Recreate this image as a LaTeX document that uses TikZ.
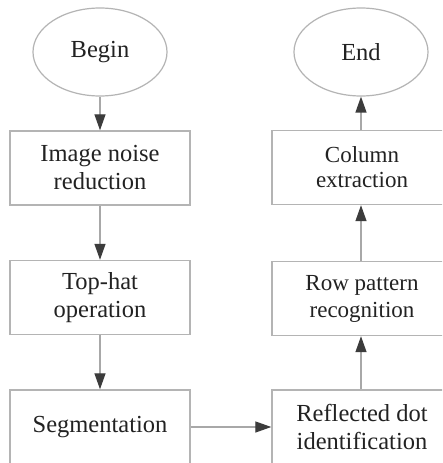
\documentclass[tikz,border=0pt]{standalone}
\usepackage{fontspec}
\setmainfont{Liberation Serif}
\usetikzlibrary{arrows.meta,shapes.geometric}
\definecolor{boxline}{HTML}{B4B4B4}
\definecolor{arrline}{HTML}{A8A8A8}
\definecolor{arrhead}{HTML}{3C3C3C}
\definecolor{txt}{HTML}{222222}
\tikzset{
  box/.style={draw=boxline, line width=1.4pt, minimum width=180pt, minimum height=74pt,
    inner sep=0pt, align=center, text=txt, font=\fontsize{24.5}{28}\selectfont},
  oval/.style={ellipse, draw=boxline, line width=1.2pt, minimum width=134pt, minimum height=88pt,
    inner sep=0pt, text=txt, font=\fontsize{24.5}{28}\selectfont},
  arr/.style={draw=arrline, line width=1.3pt,
    -{Triangle[length=16pt,width=11pt,color=arrhead]}}
}
\begin{document}
\begin{tikzpicture}[x=1pt,y=-1pt]
\useasboundingbox (0,0) rectangle (442,463);
\clip (0,0) rectangle (442,463);
\fill[white] (0,0) rectangle (442,463);
\node[oval] (begin) at (100,52) {Begin};
\node[box] (noise) at (100,168) {Image noise\\reduction};
\node[box] (tophat) at (100,297.5) {Top-hat\\operation};
\node[box] (seg) at (100,427) {Segmentation};
\node[oval] (end) at (361,52) {End};
\node[box, font=\fontsize{23}{25}\selectfont] (col) at (362,167.5) {Column\\extraction};
\node[box, font=\fontsize{23}{27}\selectfont] (row) at (362,298.5) {Row pattern\\recognition};
\node[box] (refl) at (362,427) {Reflected dot\\identification};
\draw[arr] (begin) -- (noise);
\draw[arr] (noise) -- (tophat);
\draw[arr] (tophat) -- (seg);
\draw[arr] (seg) -- (refl);
\draw[arr] (refl.north -| end.south) -- (row.south -| end.south);
\draw[arr] (row.north -| end.south) -- (col.south -| end.south);
\draw[arr] (col.north -| end.south) -- (end);
\end{tikzpicture}
\end{document}
